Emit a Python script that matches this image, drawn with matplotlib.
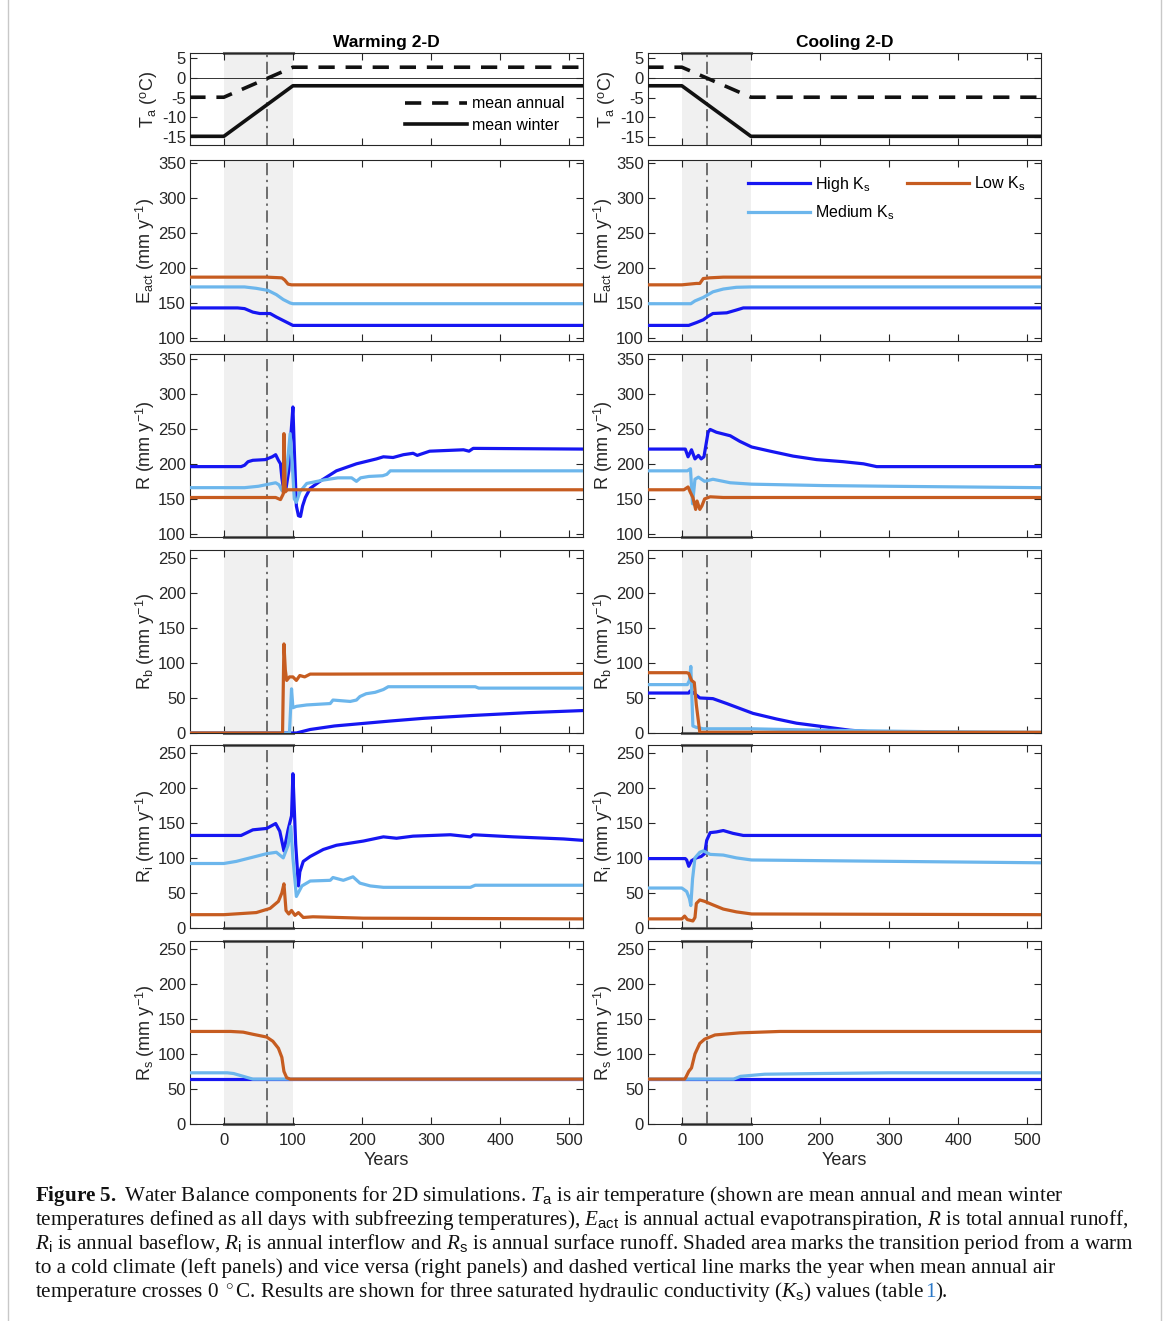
import matplotlib
matplotlib.use("Agg")
import matplotlib.pyplot as plt
from matplotlib.lines import Line2D

plt.rcParams['font.family'] = ['Liberation Sans', 'DejaVu Sans']
plt.rcParams['axes.unicode_minus'] = False
plt.rcParams['mathtext.fontset'] = 'custom'
plt.rcParams['mathtext.rm'] = 'Liberation Sans'
plt.rcParams['mathtext.it'] = 'Liberation Serif:italic'
plt.rcParams['mathtext.bf'] = 'Liberation Serif:bold'

# ---- data: (year, value) ----
# air temperature
ta_years_w = [-50, 0, 100, 520]
ta_annual_w = [-4.9, -4.9, 2.7, 2.7]
ta_winter_w = [-14.8, -14.8, -2.0, -2.0]
ta_years_c = [-50, 0, 100, 520]
ta_annual_c = [2.7, 2.7, -4.9, -4.9]
ta_winter_c = [-2.0, -2.0, -14.8, -14.8]
zero_cross_w = 63
zero_cross_c = 37

# actual evapotranspiration
eact_w_high = [(-50, 143), (20, 143), (30, 142), (42, 137), (52, 135), (67, 135), (76, 130), (86, 125), (96, 120), (100, 118), (520, 118)]
eact_w_med = [(-50, 173), (30, 173), (47, 171), (64, 168), (76, 162), (86, 155), (96, 150), (100, 149), (520, 149)]
eact_w_low = [(-50, 187), (62, 187), (84, 186), (88, 183), (93, 177), (98, 176), (520, 176)]
eact_c_high = [(-50, 118), (10, 118), (21, 122), (31, 126), (38, 131), (45, 135), (65, 136), (79, 140), (89, 143), (520, 143)]
eact_c_med = [(-50, 149), (13, 149), (19, 153), (31, 158), (38, 162), (45, 166), (60, 170), (79, 172.5), (100, 173), (520, 173)]
eact_c_low = [(-50, 176), (0, 176), (21, 178), (26, 178), (31, 185), (40, 186), (60, 187), (520, 187)]

# total runoff
r_w_high = [(-50, 196), (25, 196), (30, 198), (35, 203), (42, 205), (60, 206), (70, 210), (75, 213), (79, 205), (82, 200),
            (84, 180), (87, 160), (90, 165), (94, 190), (97, 240), (100, 281), (102, 220), (105, 140), (108, 126), (111, 125),
            (114, 140), (118, 152), (125, 165), (139, 175), (163, 190), (192, 200), (221, 207), (231, 210), (245, 209),
            (260, 213), (274, 215), (280, 212), (298, 218), (347, 220), (355, 218), (361, 222), (520, 221)]
r_w_med = [(-50, 166), (30, 166), (50, 168), (75, 173), (80, 170), (84, 162), (88, 172), (92, 200), (96, 243), (99, 200),
           (102, 150), (105, 145), (110, 160), (120, 172), (145, 177), (165, 180), (185, 180), (192, 175), (198, 180),
           (210, 182), (230, 183), (236, 185), (241, 190), (520, 190)]
r_w_low = [(-50, 152), (75, 152), (82, 149), (86, 157), (87, 243), (88, 200), (89, 160), (92, 163), (520, 163)]
r_c_high = [(-50, 221), (5, 221), (9, 210), (14, 220), (19, 207), (24, 212), (28, 207), (32, 210), (38, 245), (41, 249),
            (50, 245), (70, 240), (84, 232), (101, 224), (128, 218), (161, 211), (195, 206), (234, 203), (263, 200),
            (282, 196), (520, 196)]
r_c_med = [(-50, 190), (8, 190), (12.5, 193), (15.5, 143), (19, 178), (24, 181), (33, 175), (45, 178), (70, 173),
           (101, 171), (205, 169), (301, 168), (520, 166)]
r_c_low = [(-50, 163), (3, 163), (9, 167), (12, 160), (16, 152), (20, 135), (22, 147), (26, 135), (29, 140), (33, 150),
           (41, 153), (60, 152), (520, 152)]

# baseflow
rb_w_high = [(-50, 0), (105, 0), (125, 5), (160, 10), (240, 17), (290, 21), (360, 25), (440, 29), (520, 32)]
rb_w_med = [(-50, 0), (95, 0), (98, 63), (100, 36), (105, 38), (120, 40), (154, 42), (158, 47), (183, 45), (192, 47),
            (197, 52), (206, 56), (219, 58), (231, 62), (238, 66), (364, 66), (369, 64), (520, 64)]
rb_w_low = [(-50, 0), (85, 0), (87, 127), (89, 90), (91, 75), (95, 80), (100, 80), (105, 75), (110, 82), (117, 80),
            (125, 84), (154, 84), (520, 85)]
rb_c_high = [(-50, 57), (10, 57), (12, 60), (16, 58), (26, 50), (45, 49), (65, 42), (84, 35), (103, 28), (137, 20),
             (166, 14), (205, 9), (243, 4), (282, 1), (300, 0), (520, 0)]
rb_c_med = [(-50, 69), (8, 69), (11, 75), (13, 95), (16, 10), (21, 8), (31, 6), (101, 6), (200, 4), (350, 2), (520, 1)]
rb_c_low = [(-50, 86), (7, 86), (10, 85), (14, 75), (18, 72), (21, 40), (26, 1), (520, 1)]

# interflow
ri_w_high = [(-50, 132), (25, 132), (42, 140), (62, 142), (75, 149), (81, 138), (87, 110), (93, 140), (98, 160), (100, 220),
             (104, 120), (108, 60), (110, 80), (115, 95), (125, 102), (144, 112), (163, 118), (202, 124), (231, 130),
             (250, 128), (274, 131), (328, 133), (357, 130), (361, 133), (419, 130), (492, 127), (520, 125)]
ri_w_med = [(-50, 92), (0, 92), (18, 95), (38, 100), (62, 106), (76, 108), (86, 100), (93, 118), (97, 145), (100, 100),
            (105, 45), (113, 60), (125, 67), (154, 68), (158, 72), (173, 68), (187, 73), (197, 64), (212, 60), (231, 58),
            (357, 58), (364, 61), (520, 61)]
ri_w_low = [(-50, 19), (0, 19), (47, 22), (67, 28), (79, 38), (84, 50), (87, 63), (90, 25), (94, 20), (98, 25), (103, 18),
            (108, 22), (115, 15), (129, 16), (202, 14), (520, 13)]
ri_c_high = [(-50, 99), (5, 99), (7, 97), (10, 88), (14, 96), (21, 100), (28, 102), (33, 106), (36, 125), (41, 136),
             (50, 137), (60, 139), (74, 135), (89, 132), (520, 132)]
ri_c_med = [(-50, 57), (0, 57), (7, 52), (11, 42), (13, 32), (15.5, 70), (19, 100), (26, 108), (31, 110), (41, 105),
            (60, 104), (79, 100), (101, 97), (205, 96), (520, 93)]
ri_c_low = [(-50, 13), (0, 13), (4, 17), (8, 12), (16, 10), (19, 15), (21, 35), (26, 40), (33, 38), (45, 33), (60, 27),
            (79, 23), (101, 20), (520, 19)]

# surface runoff
rs_w_high = [(-50, 64), (520, 64)]
rs_w_med = [(-50, 73), (5, 73), (14, 72), (28, 68), (42, 64), (520, 64)]
rs_w_low = [(-50, 132), (10, 132), (28, 131), (42, 128), (62, 124), (71, 118), (79, 108), (84, 95), (87, 75), (91, 66),
            (96, 64), (520, 64)]
rs_c_high = [(-50, 64), (520, 64)]
rs_c_med = [(-50, 64), (75, 64), (85, 68), (120, 71), (200, 72), (300, 73), (520, 73)]
rs_c_low = [(-50, 64), (4, 64), (6, 67), (10, 75), (14, 80), (19, 100), (26, 115), (33, 121), (48, 127), (84, 130),
            (142, 132), (520, 132)]

ylabels = ['T$_\\mathrm{a}$ ($^\\mathrm{o}$C)',
           'E$_\\mathrm{act}$ (mm y$^\\mathrm{-1}$)',
           'R (mm y$^\\mathrm{-1}$)',
           'R$_\\mathrm{b}$ (mm y$^\\mathrm{-1}$)',
           'R$_\\mathrm{i}$ (mm y$^\\mathrm{-1}$)',
           'R$_\\mathrm{s}$ (mm y$^\\mathrm{-1}$)']
titles = ['Warming 2-D', 'Cooling 2-D']
ks_labels = ['High K$_\\mathrm{s}$', 'Medium K$_\\mathrm{s}$', 'Low K$_\\mathrm{s}$']

HIGH = '#1616f2'
MED = '#6cb6ec'
LOW = '#c65c20'
TXT = '#262626'

W, H = 1167, 1321
fig = plt.figure(figsize=(W / 100, H / 100), dpi=100)

col_left = [190, 648]
col_w = 393
rows = [(53, 145), (160, 341), (354, 537), (550, 733), (745, 928), (941, 1124)]
ylims = [(-17, 6.3), (95.7, 354.5), (95.7, 356.5), (0, 261), (0, 261), (0, 261)]
yticks = [[-15, -10, -5, 0, 5], range(100, 351, 50), range(100, 351, 50),
          range(0, 251, 50), range(0, 251, 50), range(0, 251, 50)]
# where the dark edge of the shaded patch shows (top, bottom)
shade_edges = [(True, False), (False, False), (False, True), (False, True), (True, True), (True, True)]

series = [
    [None, None],
    [[eact_w_high, eact_w_med, eact_w_low], [eact_c_high, eact_c_med, eact_c_low]],
    [[r_w_high, r_w_med, r_w_low], [r_c_high, r_c_med, r_c_low]],
    [[rb_w_high, rb_w_med, rb_w_low], [rb_c_high, rb_c_med, rb_c_low]],
    [[ri_w_high, ri_w_med, ri_w_low], [ri_c_high, ri_c_med, ri_c_low]],
    [[rs_w_high, rs_w_med, rs_w_low], [rs_c_high, rs_c_med, rs_c_low]],
]

for c in range(2):
    for r, (top, bot) in enumerate(rows):
        ax = fig.add_axes([col_left[c] / W, 1 - bot / H, col_w / W, (bot - top) / H])
        ax.set_xlim(-49, 520)
        ax.set_ylim(*ylims[r])
        ax.set_yticks(list(yticks[r]))
        ax.set_xticks(range(0, 501, 100))
        ax.axvspan(0, 100, facecolor='#f0f0f0', edgecolor='none', zorder=0)
        lo, hi = ylims[r]
        et, eb = shade_edges[r]
        if et:
            ax.plot([0, 100], [hi, hi], color='#6e6e6e', lw=2.2, clip_on=False, zorder=1)
        if eb:
            ax.plot([0, 100], [lo, lo], color='#6e6e6e', lw=2.2, clip_on=False, zorder=1)
        zc = zero_cross_w if c == 0 else zero_cross_c
        ax.axvline(zc, color='#4a4a4a', lw=1.1, ls=(0, (8, 3, 1.5, 3)), zorder=1)
        ax.tick_params(direction='in', top=True, right=True, length=5, width=0.8,
                       labelsize=12, colors=TXT, pad=3)
        ax.tick_params(axis='x', pad=6.5)
        for sp in ax.spines.values():
            sp.set_color(TXT)
            sp.set_linewidth(0.8)
        ax.set_ylabel(ylabels[r], fontsize=13, color=TXT, labelpad=1)
        if r < 5:
            ax.set_xticklabels([])
        else:
            ax.set_xlabel('Years', fontsize=13, color=TXT, labelpad=3)
        if r == 0:
            ax.set_title(titles[c], fontsize=12.5, fontweight='bold', pad=4)
            ax.axhline(0, color='#333333', lw=0.7, zorder=1)
            yrs = ta_years_w if c == 0 else ta_years_c
            ann = ta_annual_w if c == 0 else ta_annual_c
            win = ta_winter_w if c == 0 else ta_winter_c
            ax.plot(yrs, ann, color='#111111', lw=2.6, ls=(0, (4.5, 3)), label='mean annual', zorder=3)
            ax.plot(yrs, win, color='#111111', lw=2.6, label='mean winter', zorder=3)
            if c == 0:
                ax.legend(loc='center left', bbox_to_anchor=((405 - 190) / 393, 0.33), frameon=False,
                          fontsize=11.5, handlelength=3.9, handletextpad=0.3, labelspacing=0.4,
                          borderpad=0, borderaxespad=0)
        else:
            for pts, col, lab in zip(series[r][c], [HIGH, MED, LOW], ks_labels):
                ax.plot([p[0] for p in pts], [p[1] for p in pts], color=col, lw=2.3,
                        solid_joinstyle='round', label=lab, zorder=3)
            if r == 1 and c == 1:
                ax.legend(loc='upper left', bbox_to_anchor=((748 - 648) / 393, (341 - 175) / 181), ncol=2,
                          frameon=False, fontsize=11.5, handlelength=3.9, handletextpad=0.3,
                          columnspacing=0.8, labelspacing=0.6, borderpad=0, borderaxespad=0)

# page frame
fig.add_artist(Line2D([8 / W, 8 / W], [0, 1], color='#c8c8c8', lw=1))
fig.add_artist(Line2D([1161 / W, 1161 / W], [0, 1], color='#c8c8c8', lw=1))

# caption
cap_lines = [
    r'$\mathbf{Figure\ 5.}$ Water Balance components for 2D simulations. $T_\mathrm{a}$ is air temperature (shown are mean annual and mean winter',
    r'temperatures defined as all days with subfreezing temperatures), $E_\mathrm{act}$ is annual actual evapotranspiration, $R$ is total annual runoff,',
    r'$R_\mathrm{i}$ is annual baseflow, $R_\mathrm{i}$ is annual interflow and $R_\mathrm{s}$ is annual surface runoff. Shaded area marks the transition period from a warm',
    r'to a cold climate (left panels) and vice versa (right panels) and dashed vertical line marks the year when mean annual air',
    r'temperature crosses 0 $^\circ$C. Results are shown for three saturated hydraulic conductivity ($K_\mathrm{s}$) values (table ',
]
cap_x = 35 / W
cap_y0 = 1201
cap_dy = 24
renderer = fig.canvas.get_renderer()
probe = fig.text(cap_x, 0.5, cap_lines[2], fontsize=14, family='Liberation Serif')
wpx = probe.get_window_extent(renderer).width
probe.remove()
cap_fs = min(15.5, 14 * 1100 / wpx)

last = None
for i, line in enumerate(cap_lines):
    last = fig.text(cap_x, 1 - (cap_y0 + i * cap_dy) / H, line, fontsize=cap_fs,
                    family='Liberation Serif', va='baseline', ha='left', color='#111111')
ext = last.get_window_extent(renderer)
t1 = fig.text(ext.x1 / W, 1 - (cap_y0 + 4 * cap_dy) / H, '1', fontsize=cap_fs, family='Liberation Serif',
              va='baseline', color='#2a78c8')
ext1 = t1.get_window_extent(renderer)
fig.text(ext1.x1 / W, 1 - (cap_y0 + 4 * cap_dy) / H, ').', fontsize=cap_fs, family='Liberation Serif',
         va='baseline', color='#111111')

fig.savefig('out.png', dpi=100)
